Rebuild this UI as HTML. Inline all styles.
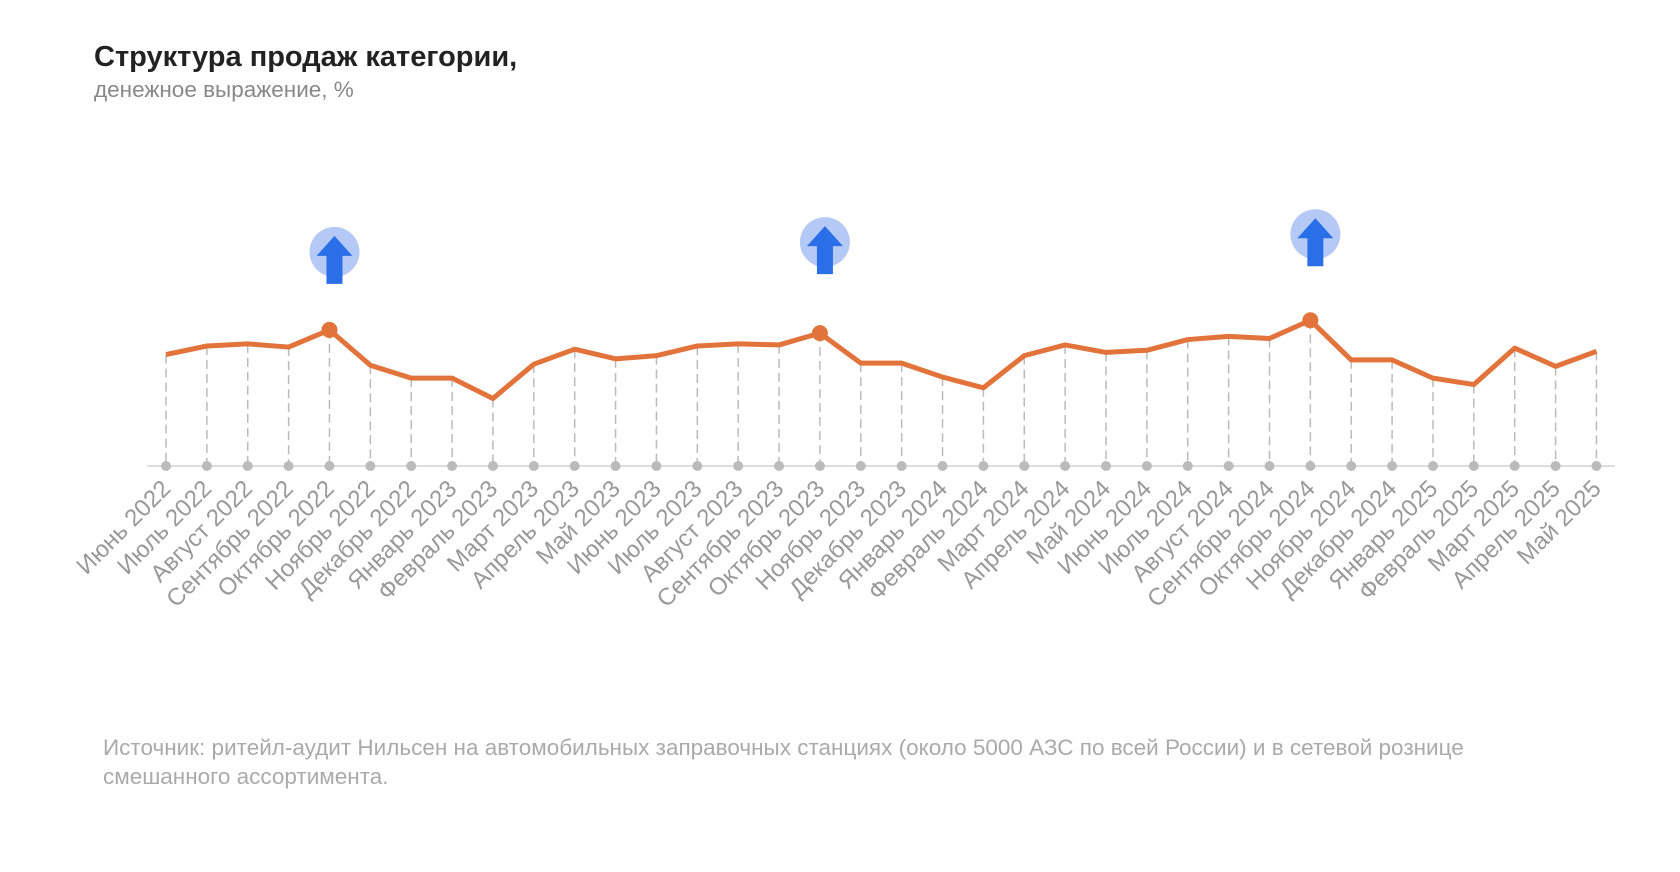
<!DOCTYPE html>
<html><head><meta charset="utf-8"><style>
body{margin:0;background:#fff;width:1680px;height:872px;overflow:hidden;font-family:"Liberation Sans",sans-serif;position:relative}
.t{position:absolute;left:94px;top:41px;font-size:29px;font-weight:bold;color:#222}
.s{position:absolute;left:94px;top:77px;font-size:22.5px;color:#888}
.src{position:absolute;left:103px;top:733px;font-size:22.5px;color:#aaa;line-height:29px;width:1400px}
svg{position:absolute;left:0;top:0}
</style></head><body>
<div class="t">Структура продаж категории,</div>
<div class="s">денежное выражение, %</div>
<svg id="c" width="1680" height="872"></svg>
<div class="src">Источник: ритейл-аудит Нильсен на автомобильных заправочных станциях (около 5000 АЗС по всей России) и в сетевой рознице смешанного ассортимента.</div>
<script>
const categories=["Июнь 2022","Июль 2022","Август 2022","Сентябрь 2022","Октябрь 2022","Ноябрь 2022","Декабрь 2022","Январь 2023","Февраль 2023","Март 2023","Апрель 2023","Май 2023","Июнь 2023","Июль 2023","Август 2023","Сентябрь 2023","Октябрь 2023","Ноябрь 2023","Декабрь 2023","Январь 2024","Февраль 2024","Март 2024","Апрель 2024","Май 2024","Июнь 2024","Июль 2024","Август 2024","Сентябрь 2024","Октябрь 2024","Ноябрь 2024","Декабрь 2024","Январь 2025","Февраль 2025","Март 2025","Апрель 2025","Май 2025"];
const values=[26,28,28.5,27.75,31.75,23.5,20.5,20.5,15.75,23.75,27.25,25,25.75,28,28.5,28.25,31,24,24,20.75,18.25,25.75,28.25,26.5,27,29.5,30.25,29.75,34,24.75,24.75,20.5,19,27.5,23.25,26.75];
const highlights=[4,16,28];
const NS="http://www.w3.org/2000/svg";
const svg=document.getElementById('c');
const x0=166,step=40.87,base=466,k=4.286;
const badgeLift=[78,91,86];
const xs=i=>x0+i*step, ys=v=>base-v*k;
function mk(t,a){const e=document.createElementNS(NS,t);for(const n in a)e.setAttribute(n,a[n]);svg.appendChild(e);return e;}
let ax=mk('line',{x1:147,x2:1615,y1:base,y2:base,stroke:'#ddd','stroke-width':2});


categories.forEach((c,i)=>{
  const x=xs(i);
  const l=mk('line',{x1:x,x2:x,y1:ys(values[i]),y2:base,stroke:'#bbb','stroke-width':1.5,'stroke-dasharray':'9,5'});
  
  
  const d=mk('circle',{cx:x,cy:base,r:5,fill:'#bbb'});
  
  
  const t=mk('text',{x:x+6,y:490,'text-anchor':'end','font-size':24,fill:'#999','font-family':'Liberation Sans, sans-serif',transform:`rotate(-45 ${x+6} 490)`});
  t.textContent=c;
  
  
});
const p=mk('polyline',{points:values.map((v,i)=>xs(i)+','+ys(v)).join(' '),fill:'none',stroke:'#e2733a','stroke-width':5,'stroke-linejoin':'round'});


highlights.forEach((i,j)=>{
  const x=xs(i),y=ys(values[i]);
  const m=mk('circle',{cx:x,cy:y,r:8,fill:'#e2733a'});
  
  
  const cy=y-badgeLift[j],cx=x+5;
  const g=mk('circle',{cx:cx,cy:cy,r:25,fill:'#b4c9f5'});
  
  
  const a=mk('path',{d:`M${cx} ${cy-16} L${cx+18} ${cy+4} L${cx+8} ${cy+4} L${cx+8} ${cy+32} L${cx-8} ${cy+32} L${cx-8} ${cy+4} L${cx-18} ${cy+4} Z`,fill:'#2a6ee8'});
  
  
});
</script>
</body></html>
